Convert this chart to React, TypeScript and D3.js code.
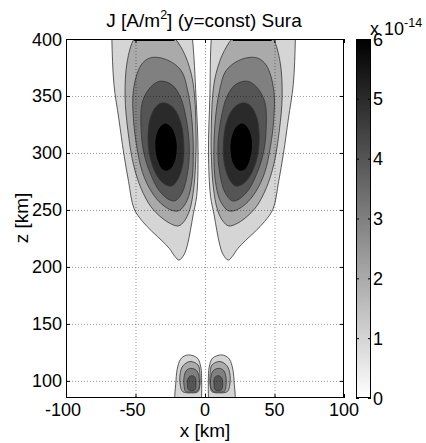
import React from "react";
import * as d3 from "d3";

// ---- data (x in km, z in km, level in 1e-14 A/m^2) ----
const xTicks = [-100, -50, 0, 50, 100];
const zTicks = [100, 150, 200, 250, 300, 350, 400];
const cbTicks = [0, 1, 2, 3, 4, 5, 6];
const levels = [1, 2, 3, 4, 5, 6];

// upper-left lobe contour outlines
const upperLeft1 = [[-42,445],[-12,425],[-9,400],[-6.5,350],[-5,300],[-6,262],[-8.5,246],[-10.5,232],[-12.5,220],[-15,211],[-18.7,206],[-21.5,209],[-25.5,216],[-31,223],[-38,231],[-45,240],[-51,251],[-55,275],[-58.5,300],[-62,330],[-65.5,360],[-67,400],[-67,425]];
const upperLeft2 = [[-37,408],[-24,403],[-16,390],[-10,370],[-7.5,350],[-6.5,320],[-6.5,300],[-8,270],[-11,250],[-15,240],[-19,236],[-24,237.5],[-31,243],[-39,253],[-46,269],[-51.5,290],[-55.5,320],[-57.5,350],[-56,380],[-51,400],[-45,406]];
const upperLeft3 = [[-36,384],[-26,381],[-17,372],[-12.5,355],[-9.5,330],[-8.4,300],[-9.5,275],[-13,258],[-18.5,249.5],[-23.5,249.5],[-31,255],[-38.5,266],[-45,283],[-49,305],[-51.5,330],[-51.5,355],[-47,375],[-42,382]];
const upperLeft4 = [[-32.4,363],[-24,360],[-18,350],[-13.5,330],[-11.3,305],[-12.5,283],[-16.5,265],[-21.6,258],[-26.5,259.5],[-33,267],[-39,281],[-44,300],[-46,322],[-45,345],[-39,358]];
const upperLeft5 = [[-30,344],[-23,340],[-17.5,327],[-15.2,307],[-16,290],[-19.5,277],[-24,271],[-29.5,273],[-35,281],[-39.5,296],[-41,312],[-39.5,330],[-35,341]];
const upperLeft6 = [[-28.5,326.3],[-23.5,322],[-20.5,312],[-20,303],[-21.5,292],[-24.5,286],[-27.6,284],[-31,285.5],[-34,292],[-36,303],[-35.5,315],[-32.5,323]];

// upper-right lobe contour outlines
const upperRight1 = [[40,445],[7,425],[4.5,400],[3.5,350],[2.5,300],[4,262],[6.5,246],[8.5,232],[10.5,220],[13,211],[16.7,206],[19.5,209],[23.5,216],[29,223],[36,231],[43,240],[49,251],[53,275],[56.5,300],[60,330],[63.5,360],[65,400],[65,425]];
const upperRight2 = [[35,408],[22,403],[14,390],[8,370],[5.5,350],[4.5,320],[4.5,300],[6,270],[9,250],[13,240],[17,236],[22,237.5],[29,243],[37,253],[44,269],[49.5,290],[53.5,320],[55.5,350],[54,380],[49,400],[43,406]];
const upperRight3 = [[34,384],[24,381],[15,372],[10.5,355],[7.5,330],[6.4,300],[7.5,275],[11,258],[16.5,249.5],[21.5,249.5],[29,255],[36.5,266],[43,283],[47,305],[49.5,330],[49.5,355],[45,375],[40,382]];
const upperRight4 = [[30.4,363],[22,360],[16,350],[11.5,330],[9.3,305],[10.5,283],[14.5,265],[19.6,258],[24.5,259.5],[31,267],[37,281],[42,300],[44,322],[43,345],[37,358]];
const upperRight5 = [[28,344],[21,340],[15.5,327],[13.2,307],[14,290],[17.5,277],[22,271],[27.5,273],[33,281],[37.5,296],[39,312],[37.5,330],[33,341]];
const upperRight6 = [[26.5,326.3],[21.5,322],[18.5,312],[18,303],[19.5,292],[22.5,286],[25.6,284],[29,285.5],[32,292],[34,303],[33.5,315],[30.5,323]];

// lower lobes
const lowerLeft1 = [[-12,122.8],[-5.5,120],[-3,112],[-2.4,100],[-2.5,85],[-3,75],[-12,70],[-20.5,75],[-20.9,100],[-19.5,113],[-17,120]];
const lowerLeft2 = [[-10.8,117],[-5,114],[-3.6,105],[-3.8,95],[-5,90.5],[-10,89.5],[-16,90.5],[-17.6,95],[-18,105],[-16,113]];
const lowerLeft3 = [[-10.3,111],[-6,109],[-4.1,102],[-4.3,94],[-6,90.8],[-10,90.2],[-14,90.8],[-15,95],[-15.1,103],[-13.5,109]];
const lowerLeft4 = [[-9.6,104.6],[-7,103],[-6.5,97],[-7,92.5],[-9.5,91.3],[-12,92.5],[-12.7,97],[-12,102.5]];
const lowerRight1 = [[12,122.8],[17,120],[19.5,113],[20.9,100],[20.5,75],[12,70],[3,75],[2.5,85],[2.4,100],[3,112],[5.5,120]];
const lowerRight2 = [[10.8,117],[16,113],[18,105],[17.6,95],[16,90.5],[10,89.5],[5,90.5],[3.8,95],[3.6,105],[5,114]];
const lowerRight3 = [[10.3,111],[13.5,109],[15.1,103],[15,95],[14,90.8],[10,90.2],[6,90.8],[4.3,94],[4.1,102],[6,109]];
const lowerRight4 = [[9.6,104.6],[12,102.5],[12.7,97],[12,92.5],[9.5,91.3],[7,92.5],[6.5,97],[7,103]];

// spans (x km) where contour edges run along the top data boundary z=400
const topEdgeSpans = [[-51, -22], [20, 48]];

const contourSets = [
  { level: levels[0], outlines: [upperLeft1, upperRight1, lowerLeft1, lowerRight1] },
  { level: levels[1], outlines: [upperLeft2, upperRight2, lowerLeft2, lowerRight2] },
  { level: levels[2], outlines: [upperLeft3, upperRight3, lowerLeft3, lowerRight3] },
  { level: levels[3], outlines: [upperLeft4, upperRight4, lowerLeft4, lowerRight4] },
  { level: levels[4], outlines: [upperLeft5, upperRight5] },
  { level: levels[5], outlines: [upperLeft6, upperRight6] },
];

const W = 426, H = 443;
const PL = 66, PR = 344, PT = 39, PB = 398;
const CBX = 356, CBW = 15;
const FONT = "'Liberation Sans', Arial, Helvetica, sans-serif";
const TICK_FS = 18;

export default function App() {
  const xs = d3.scaleLinear().domain([-100, 100]).range([PL, PR]);
  const zs = d3.scaleLinear().domain([85, 400]).range([PB, PT]);
  const cs = d3.scaleLinear().domain([0, 6]).range([PB, PT]);
  const gray = (v: number) => {
    const g = Math.round(255 * (1 - v / 6));
    return `rgb(${g},${g},${g})`;
  };
  const line = d3
    .line<number[]>()
    .x((d) => xs(d[0]))
    .y((d) => zs(d[1]))
    .curve(d3.curveCatmullRomClosed.alpha(0.5));

  // MATLAB centres the digits and lets the minus sign hang to the left
  const xLabelPos = (t: number) => {
    const digits = String(Math.abs(t)).length;
    return xs(t) + (digits * 0.556 * TICK_FS) / 2;
  };

  const tick = 4;
  return (
    <div style={{ position: "absolute", left: 0, top: 0 }}>
      <svg width={W} height={H} style={{ display: "block", background: "#fff" }} fontFamily={FONT}>
        <defs>
          <clipPath id="plotclip">
            <rect x={PL} y={PT} width={PR - PL} height={PB - PT} />
          </clipPath>
          <linearGradient id="cbgrad" x1="0" y1="1" x2="0" y2="0">
            <stop offset="0" stopColor="#fff" />
            <stop offset="1" stopColor="#000" />
          </linearGradient>
        </defs>
        <rect x={0} y={0} width={W} height={H} fill="#fff" />
        <g clipPath="url(#plotclip)">
          {contourSets.map((s) =>
            s.outlines.map((o, i) => (
              <path key={`${s.level}-${i}`} d={line(o) || ""} fill={gray(s.level)} stroke="#333" strokeWidth={0.8} />
            ))
          )}
        </g>
        {/* grid */}
        <g stroke="#000" strokeOpacity={0.4} strokeDasharray="1 2" strokeWidth={1}>
          {xTicks.slice(1, -1).map((t) => (
            <line key={`gx${t}`} x1={xs(t) + 0.5} x2={xs(t) + 0.5} y1={PT} y2={PB} />
          ))}
          {zTicks.filter((t) => t < 400).map((t) => (
            <line key={`gz${t}`} x1={PL} x2={PR} y1={zs(t) + 0.5} y2={zs(t) + 0.5} />
          ))}
        </g>
        {/* frame and ticks */}
        <rect x={PL + 0.5} y={PT + 0.5} width={PR - PL - 1} height={PB - PT - 1} fill="none" stroke="#000" strokeWidth={1} />
        <g stroke="#000" strokeWidth={1.2}>
          {topEdgeSpans.map((s, i) => (
            <line key={`te${i}`} x1={xs(s[0])} x2={xs(s[1])} y1={PT + 1.5} y2={PT + 1.5} />
          ))}
        </g>
        <g stroke="#000" strokeWidth={1}>
          {xTicks.map((t) => (
            <g key={`tx${t}`}>
              <line x1={xs(t) + 0.5} x2={xs(t) + 0.5} y1={PB} y2={PB - tick} />
              <line x1={xs(t) + 0.5} x2={xs(t) + 0.5} y1={PT} y2={PT + tick} />
            </g>
          ))}
          {zTicks.map((t) => (
            <g key={`tz${t}`}>
              <line x1={PL} x2={PL + tick} y1={zs(t) + 0.5} y2={zs(t) + 0.5} />
              <line x1={PR} x2={PR - tick} y1={zs(t) + 0.5} y2={zs(t) + 0.5} />
            </g>
          ))}
        </g>
        <g fontSize={TICK_FS} fill="#000">
          {xTicks.map((t) => (
            <text key={`lx${t}`} x={xLabelPos(t)} y={416} textAnchor="end">{t}</text>
          ))}
          {zTicks.map((t) => (
            <text key={`lz${t}`} x={PL - 4} y={zs(t) + 6.5} textAnchor="end">{t}</text>
          ))}
        </g>
        <g fontSize={19} fill="#000">
          <text x={205} y={437} textAnchor="middle">x [km]</text>
          <text transform={`translate(28,${218}) rotate(-90)`} textAnchor="middle">z [km]</text>
          <text x={204} y={27} textAnchor="middle">
            J [A/m<tspan fontSize={12.5} dy={-8}>2</tspan><tspan dy={8}>] (y=const) Sura</tspan>
          </text>
        </g>
        {/* colorbar */}
        <rect x={CBX} y={PT} width={CBW} height={PB - PT} fill="url(#cbgrad)" />
        <rect x={CBX + 0.5} y={PT + 0.5} width={CBW - 1} height={PB - PT - 1} fill="none" stroke="#000" />
        <g stroke="#000">
          {cbTicks.map((t) => (
            <g key={`cb${t}`}>
              <line x1={CBX} x2={CBX + 3} y1={cs(t) + 0.5} y2={cs(t) + 0.5} />
              <line x1={CBX + CBW} x2={CBX + CBW - 3} y1={cs(t) + 0.5} y2={cs(t) + 0.5} />
            </g>
          ))}
        </g>
        <g fontSize={TICK_FS} fill="#000">
          {cbTicks.map((t) => (
            <text key={`cbl${t}`} x={CBX + CBW + 2} y={cs(t) + 6.5}>{t}</text>
          ))}
          <text x={370} y={35}>
            x 10<tspan fontSize={12.5} dy={-8}>-14</tspan>
          </text>
        </g>
      </svg>
    </div>
  );
}
